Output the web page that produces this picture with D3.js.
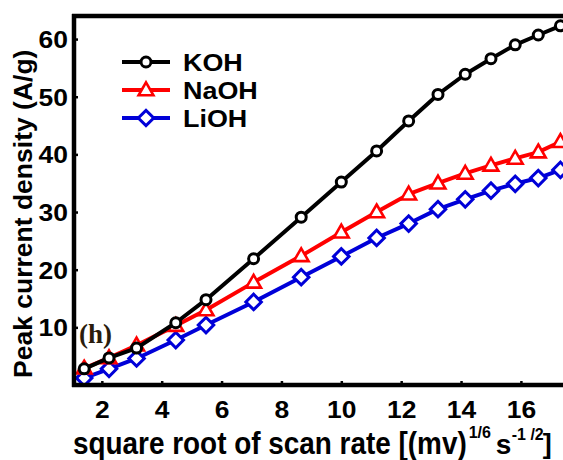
<!DOCTYPE html>
<html>
<head>
<meta charset="utf-8">
<script src="https://cdn.jsdelivr.net/npm/d3@7"></script>
<style>
  html, body { margin: 0; padding: 0; background: #fff; }
  svg { display: block; }
  text { font-family: Arial, "Liberation Sans", sans-serif; font-weight: bold; }
</style>
</head>
<body>
<svg id="chart" width="563" height="460"></svg>
<script>
// square root of scan rate
const sqrtScanRate = [1.41, 2.24, 3.16, 4.47, 5.48, 7.07, 8.66, 10.0, 11.18, 12.25, 13.23, 14.14, 15.0, 15.81, 16.58, 17.32];

// peak current density (A/g)
const kohValues  = [2.8, 4.7, 6.4, 10.8, 14.8, 21.9, 29.1, 35.2, 40.6, 45.8, 50.4, 53.9, 56.6, 59.0, 60.7, 62.3];
const naohValues = [2.9, 4.7, 6.9, 10.3, 13.0, 17.8, 22.4, 26.5, 30.0, 33.1, 35.0, 36.7, 38.1, 39.3, 40.4, 42.2];
const liohValues = [1.2, 2.8, 4.6, 7.8, 10.4, 14.4, 18.7, 22.3, 25.5, 28.0, 30.5, 32.2, 33.7, 34.9, 35.9, 37.3];

const seriesNames = ["KOH", "NaOH", "LiOH"];
const xTicks = [2, 4, 6, 8, 10, 12, 14, 16];
const yTicks = [10, 20, 30, 40, 50, 60];

const series = [
  { name: seriesNames[0], values: kohValues,  color: "#000000", marker: "circle" },
  { name: seriesNames[1], values: naohValues, color: "#ff0000", marker: "triangle" },
  { name: seriesNames[2], values: liohValues, color: "#0000d8", marker: "diamond" }
];

const svg = d3.select("#chart");
const plot = { left: 74, right: 570, top: 16, bottom: 385 };

const x = d3.scaleLinear().domain([1.07, 17.64]).range([plot.left, plot.right]);
const y = d3.scaleLinear().domain([0, 64]).range([plot.bottom, plot.top]);

// clip for data so nothing crosses the frame
svg.append("defs").append("clipPath").attr("id", "plotClip")
  .append("rect")
  .attr("x", plot.left).attr("y", plot.top - 8)
  .attr("width", plot.right - plot.left + 10).attr("height", plot.bottom - plot.top + 8);

const markerPath = {
  triangle: d3.symbol().type(d3.symbolTriangle).size(95)(),
  diamond: d3.symbol().type(d3.symbolSquare).size(120)()
};

function drawMarker(g, type, cx, cy, color) {
  if (type === "circle") {
    g.append("circle").attr("cx", cx).attr("cy", cy).attr("r", 5)
      .attr("fill", "#fff").attr("stroke", color).attr("stroke-width", 3);
  } else if (type === "triangle") {
    g.append("path").attr("d", markerPath.triangle)
      .attr("transform", `translate(${cx},${cy + 1})`)
      .attr("fill", "#fff").attr("stroke", color).attr("stroke-width", 2.6);
  } else {
    g.append("path").attr("d", markerPath.diamond)
      .attr("transform", `translate(${cx},${cy}) rotate(45)`)
      .attr("fill", "#fff").attr("stroke", color).attr("stroke-width", 3);
  }
}

const dataLayer = svg.append("g").attr("clip-path", "url(#plotClip)");
const line = d3.line().x((d, i) => x(sqrtScanRate[i])).y(d => y(d));

// draw from back to front: LiOH, NaOH, KOH
[...series].reverse().forEach(s => {
  dataLayer.append("path")
    .datum(s.values)
    .attr("d", line)
    .attr("fill", "none")
    .attr("stroke", s.color)
    .attr("stroke-width", 4)
    .attr("stroke-linejoin", "round");
  const mg = dataLayer.append("g");
  s.values.forEach((v, i) => drawMarker(mg, s.marker, x(sqrtScanRate[i]), y(v), s.color));
});

// axes
const xAxis = d3.axisBottom(x).tickValues(xTicks).tickSize(-4).tickPadding(0).tickFormat(d3.format("d"));
const yAxis = d3.axisLeft(y).tickValues(yTicks).tickSize(-4).tickPadding(0).tickFormat(d3.format("d"));

const gx = svg.append("g").attr("transform", `translate(0,${plot.bottom})`).call(xAxis);
const gy = svg.append("g").attr("transform", `translate(${plot.left},0)`).call(yAxis);

[gx, gy].forEach(g => {
  g.select(".domain").remove();
  g.selectAll(".tick line").attr("stroke", "#000").attr("stroke-width", 2.5);
  g.selectAll(".tick text").attr("fill", "#000").style("font-size", "23px");
});

gx.selectAll(".tick text")
  .attr("y", 0).attr("dy", null)
  .attr("transform", "translate(0,33) scale(1.15,1)");
gy.selectAll(".tick text")
  .attr("x", 0).attr("dy", null)
  .attr("text-anchor", "end")
  .attr("transform", "translate(-6,8.5) scale(1.15,1)");

// frame (top, left, bottom)
const frame = svg.append("g").attr("stroke", "#000").attr("stroke-width", 4.5).attr("fill", "none");
frame.append("line").attr("x1", plot.left - 2).attr("x2", 570).attr("y1", plot.top).attr("y2", plot.top);
frame.append("line").attr("x1", plot.left).attr("x2", plot.left).attr("y1", plot.top - 2).attr("y2", plot.bottom + 2);
frame.append("line").attr("x1", plot.left - 2).attr("x2", 570).attr("y1", plot.bottom).attr("y2", plot.bottom);

// legend
const legend = svg.append("g");
series.forEach((s, i) => {
  const ly = 62 + i * 28;
  legend.append("line").attr("x1", 122).attr("x2", 170).attr("y1", ly).attr("y2", ly)
    .attr("stroke", s.color).attr("stroke-width", 4);
  drawMarker(legend, s.marker, 146, ly, s.color);
  legend.append("text")
    .attr("transform", `translate(183,${ly + 8.5}) scale(1.17,1)`)
    .style("font-size", "23px")
    .attr("fill", "#000")
    .text(s.name);
});

// y axis title
svg.append("text")
  .attr("transform", "translate(32,378) rotate(-90)")
  .style("font-size", "26.5px")
  .attr("fill", "#000")
  .text("Peak current density (A/g)");

// x axis title: main run, then superscripted units placed after it
const xTitleX = 73, xTitleY = 454, xScale = 0.90;
const xMain = svg.append("text")
  .attr("transform", `translate(${xTitleX},${xTitleY}) scale(${xScale},1)`)
  .style("font-size", "31px")
  .attr("fill", "#000")
  .text("square root of scan rate [(mv)");
const mainEnd = xTitleX + xMain.node().getComputedTextLength() * xScale;

function unitPart(txt, dx, dy, size) {
  return svg.append("text")
    .attr("x", mainEnd + dx).attr("y", xTitleY + dy)
    .style("font-size", size + "px")
    .attr("fill", "#000")
    .text(txt);
}
unitPart("1/6", 2, -16, 16);
unitPart("s", 29, 0, 28);
unitPart("-1 /2", 45, -14, 16);
unitPart("]", 76, -1, 27);

// panel tag
svg.append("text")
  .attr("x", 79).attr("y", 343)
  .style("font-family", "'Times New Roman', 'Liberation Serif', serif")
  .style("font-size", "27px")
  .attr("fill", "#2a1c0c")
  .text("(h)");
</script>
</body>
</html>
